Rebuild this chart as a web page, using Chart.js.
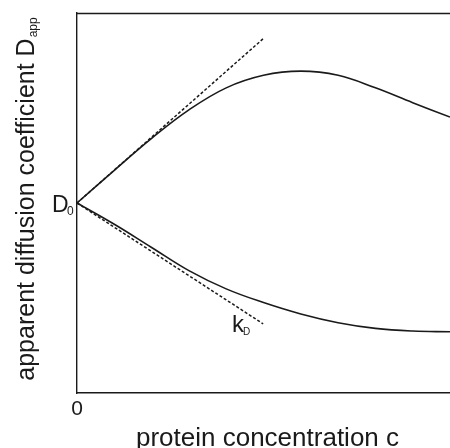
<!DOCTYPE html>
<html>
<head>
<meta charset="utf-8">
<script src="https://cdn.jsdelivr.net/npm/chart.js@4.4.0/dist/chart.umd.min.js"></script>
<style>
html,body{margin:0;padding:0;background:#fff;}
#wrap{width:450px;height:448px;position:relative;}
</style>
</head>
<body>
<div id="wrap"><canvas id="c" width="450" height="448"></canvas></div>
<script>
// concentration values (arbitrary units)
const concX = [0, 1, 2, 3, 4, 5, 6, 7, 8, 9, 10];
const upperY = [5.0, 5.86, 6.70, 7.45, 8.03, 8.36, 8.47, 8.36, 8.03, 7.64, 7.26];
const lowerY = [5.0, 4.44, 3.83, 3.22, 2.74, 2.38, 2.08, 1.85, 1.70, 1.63, 1.61];
const upperTangentX = [0, 5.01];
const upperTangentY = [5.0, 9.34];
const lowerTangentX = [0, 4.99];
const lowerTangentY = [5.0, 1.82];
const xTickLabels = ["0"];
const D0 = 5.0;

const toPts = (xs, ys) => xs.map((x, i) => ({x: x, y: ys[i]}));
const ink = '#1a1a1a';
const FONT = '"Liberation Sans", Arial, sans-serif';

const labelPlugin = {
  id: 'labels',
  afterDraw(chart) {
    const ctx = chart.ctx;
    const xs = chart.scales.x, ys = chart.scales.y;
    const a = chart.chartArea;
    ctx.save();
    // top frame line
    ctx.strokeStyle = ink; ctx.lineWidth = 1.3;
    ctx.beginPath(); ctx.moveTo(a.left, a.top + 0.5); ctx.lineTo(a.right, a.top + 0.5); ctx.stroke();
    ctx.fillStyle = ink;
    // x tick "0"
    ctx.font = '21px ' + FONT;
    ctx.textAlign = 'center'; ctx.textBaseline = 'alphabetic';
    ctx.fillText(xTickLabels[0], xs.getPixelForValue(0), a.bottom + 22);
    // D0
    const yD = ys.getPixelForValue(D0);
    ctx.textAlign = 'left';
    ctx.font = '23px ' + FONT;
    ctx.fillText('D', a.left - 25, yD + 9);
    ctx.font = '12px ' + FONT;
    ctx.fillText('0', a.left - 10, yD + 12);
    // kD
    ctx.font = '24px ' + FONT;
    const kx = xs.getPixelForValue(4.155), ky = ys.getPixelForValue(1.605);
    ctx.fillText('k', kx, ky);
    const kw = ctx.measureText('k').width;
    ctx.font = '10px ' + FONT;
    ctx.fillText('D', kx + kw - 1, ky + 3);
    // x title
    ctx.font = '26px ' + FONT;
    ctx.textAlign = 'center';
    ctx.fillText('protein concentration c', (a.left + a.right) / 2 + 4, 446);
    // y title (rotated) with subscript
    ctx.translate(34, 199);
    ctx.rotate(-Math.PI / 2);
    ctx.font = '25px ' + FONT;
    const main = 'apparent diffusion coefficient D';
    const wMain = ctx.measureText(main).width;
    ctx.font = '12px ' + FONT;
    const sub = 'app';
    const wSub = ctx.measureText(sub).width;
    const total = wMain + wSub + 1;
    ctx.textAlign = 'left';
    ctx.font = '25px ' + FONT;
    ctx.fillText(main, -total / 2, 0);
    ctx.font = '12px ' + FONT;
    ctx.fillText(sub, -total / 2 + wMain + 1, 3);
    ctx.restore();
  }
};

new Chart(document.getElementById('c'), {
  type: 'scatter',
  data: {
    datasets: [
      {data: toPts(concX, upperY), showLine: true, borderColor: ink, borderWidth: 1.6, pointRadius: 0, tension: 0.4},
      {data: toPts(concX, lowerY), showLine: true, borderColor: ink, borderWidth: 1.6, pointRadius: 0, tension: 0.4},
      {data: toPts(upperTangentX, upperTangentY), showLine: true, borderColor: ink, borderWidth: 1.5, borderDash: [3, 2], pointRadius: 0},
      {data: toPts(lowerTangentX, lowerTangentY), showLine: true, borderColor: ink, borderWidth: 1.5, borderDash: [3, 2], pointRadius: 0}
    ]
  },
  options: {
    responsive: false,
    animation: false,
    devicePixelRatio: 1,
    layout: {padding: {top: 13, right: 0, left: 0, bottom: 0}},
    plugins: {legend: {display: false}, tooltip: {enabled: false}},
    scales: {
      x: {
        type: 'linear', min: 0, max: 10,
        grid: {display: false},
        border: {display: true, color: ink, width: 1.4},
        ticks: {display: false},
        afterFit(s) { s.height = 55; }
      },
      y: {
        type: 'linear', min: 0, max: 10,
        grid: {display: false},
        border: {display: true, color: ink, width: 1.4},
        ticks: {display: false},
        afterFit(s) { s.width = 77; }
      }
    }
  },
  plugins: [labelPlugin]
});
</script>
</body>
</html>
